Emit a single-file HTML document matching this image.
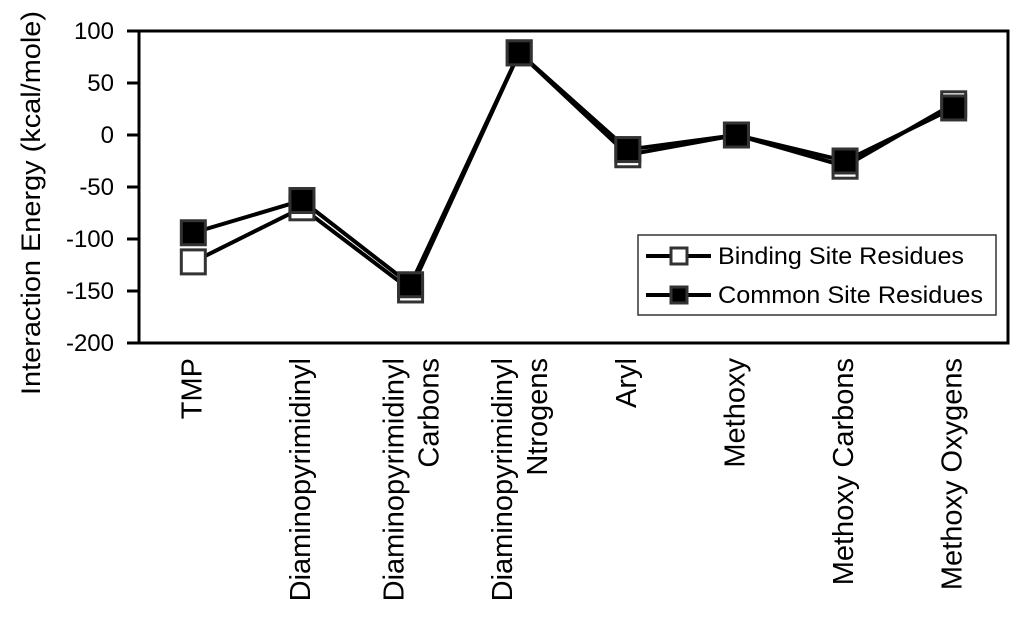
<!DOCTYPE html>
<html><head><meta charset="utf-8"><style>
body{margin:0;background:#fff;width:1024px;height:618px;overflow:hidden}
svg text{font-family:"Liberation Sans",sans-serif;fill:#000}
</style></head><body>
<svg id="chart" width="1024" height="618">
<rect x="139" y="31" width="869" height="312" fill="none" stroke="#000" stroke-width="3"/>
<g id="yticks"></g><g id="xlabels"></g><g id="series"></g>
<text x="0" y="0" font-size="27" text-anchor="middle" textLength="384" lengthAdjust="spacingAndGlyphs" transform="translate(40,203) rotate(-90)">Interaction Energy (kcal/mole)</text>
<g>
<rect x="638" y="235" width="358" height="80" fill="#fff" stroke="#333" stroke-width="1.5"/>
<g>
<line x1="646" y1="256" x2="711" y2="256" stroke="#000" stroke-width="4"/>
<rect x="671" y="248" width="16" height="16" fill="#fff" stroke="#333" stroke-width="3"/>
<text x="718" y="264" font-size="24" textLength="246" lengthAdjust="spacingAndGlyphs">Binding Site Residues</text></g>
<g>
<line x1="646" y1="295" x2="711" y2="295" stroke="#000" stroke-width="4"/>
<rect x="671" y="287" width="16" height="16" fill="#000" stroke="#333" stroke-width="3"/>
<text x="718" y="303" font-size="24" textLength="265" lengthAdjust="spacingAndGlyphs">Common Site Residues</text></g>
</g>
</svg>
<script>
const categories=[["TMP"],["Diaminopyrimidinyl"],["Diaminopyrimidinyl","Carbons"],["Diaminopyrimidinyl","Ntrogens"],["Aryl"],["Methoxy"],["Methoxy Carbons"],["Methoxy Oxygens"]];
const bindingValues=[-122,-70,-149,79,-19,0,-30,30];
const commonValues=[-94,-63,-144,79,-14,0,-25,26];
const yTicks=[100,50,0,-50,-100,-150,-200];
const NS="http://www.w3.org/2000/svg";
const L=139,R=1008,T=31,B=343;
const y=v=>T+(100-v)*(B-T)/300;
const x=i=>L+(i+0.5)*(R-L)/categories.length;
function mk(t,a,p){const e=document.createElementNS(NS,t);for(const k in a)e.setAttribute(k,a[k]);p.appendChild(e);return e;}
const yt=document.getElementById('yticks');
yTicks.forEach(v=>{const t=mk('text',{x:114,y:y(v)+8,'font-size':24,'text-anchor':'end'},yt);t.textContent=v;


mk('line',{x1:127,x2:L,y1:y(v),y2:y(v),stroke:'#000','stroke-width':3},yt);});
const xl=document.getElementById('xlabels');
categories.forEach((c,i)=>{const n=c.length;c.forEach((s,j)=>{const cx=n===1?x(i)+8:x(i)-7+j*35;
const t=mk('text',{'font-size':29,'text-anchor':'end',transform:`translate(${cx},358) rotate(-90)`},xl);t.textContent=s;

});});
const sg=document.getElementById('series');
[[bindingValues,'#fff','binding'],[commonValues,'#000','common']].forEach(([vals,fill,nm])=>{
const pl=mk('polyline',{points:vals.map((v,i)=>x(i)+','+y(v)).join(' '),fill:'none',stroke:'#000','stroke-width':4},sg);


vals.forEach((v,i)=>{const r=mk('rect',{x:x(i)-12,y:y(v)-12,width:24,height:24,fill:fill,stroke:'#333','stroke-width':3},sg);

});});
</script>
</body></html>
